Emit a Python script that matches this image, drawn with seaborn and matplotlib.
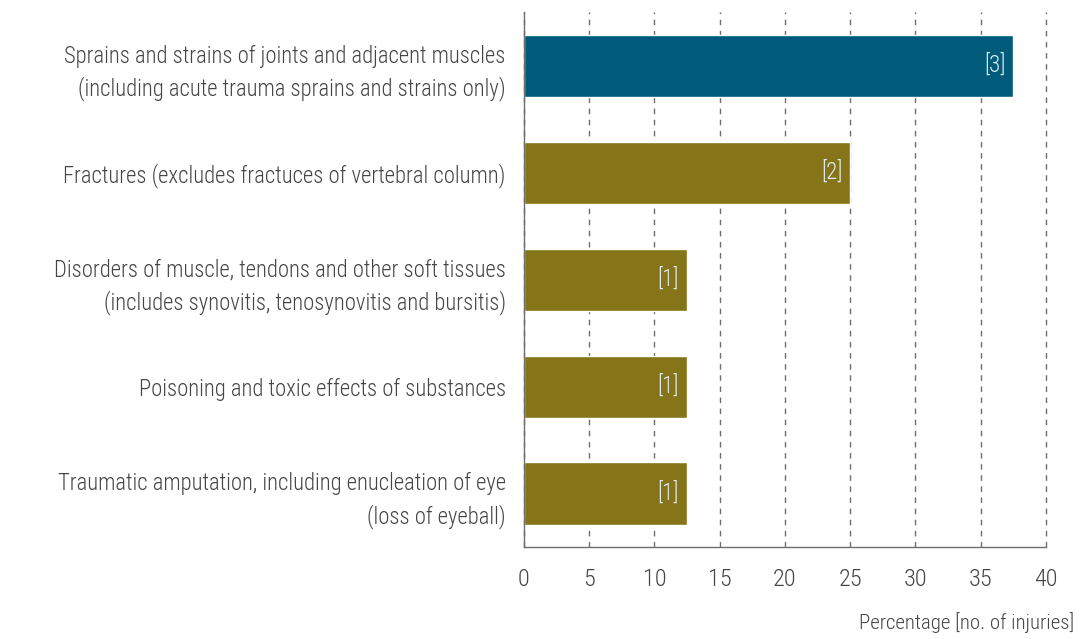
import matplotlib

matplotlib.use("Agg")
import matplotlib.pyplot as plt
import pandas as pd
import seaborn as sns

categories = [
    "Sprains and strains of joints and adjacent muscles\n(including acute trauma sprains and strains only)",
    "Fractures (excludes fractuces of vertebral column)",
    "Disorders of muscle, tendons and other soft tissues\n(includes synovitis, tenosynovitis and bursitis)",
    "Poisoning and toxic effects of substances",
    "Traumatic amputation, including enucleation of eye\n(loss of eyeball)",
]
percentages = [37.5, 25.0, 12.5, 12.5, 12.5]
injuries = [3, 2, 1, 1, 1]
x_ticks = [0, 5, 10, 15, 20, 25, 30, 35, 40]

sns.set_theme(style="white")
plt.rcParams["font.family"] = ["Roboto Condensed", "Roboto", "DejaVu Sans"]
plt.rcParams["font.weight"] = "light"

TEXT = "#454545"
GRID = "#6e6e6e"
palette = ["#005b7b"] + ["#857518"] * (len(categories) - 1)

df = pd.DataFrame({"category": categories, "pct": percentages, "n": injuries})

fig = plt.figure(figsize=(10.8, 6.39), dpi=100)
ax = fig.add_axes([0.485, 0.144, 0.4835, 0.837])

sns.barplot(data=df, x="pct", y="category", hue="category", palette=palette,
            legend=False, width=0.58, saturation=1, ax=ax)

for patch, n in zip(ax.patches, df["n"]):
    y = patch.get_y() + patch.get_height() / 2
    ax.text(patch.get_width() - 0.6, y, f"[{n}]", ha="right", va="center",
            color="#e3ecef", fontsize=16.5)

ax.set_xlim(0, 40)
ax.set_ylim(4.5, -0.5)
ax.set_xticks(x_ticks)
ax.xaxis.grid(True, linestyle=(0, (4, 4)), color=GRID, linewidth=1)
for line in ax.get_xgridlines():
    line.set_clip_on(False)
ax.set_axisbelow(True)
for side in ("top", "right"):
    ax.spines[side].set_visible(False)
for side in ("left", "bottom"):
    ax.spines[side].set_color(GRID)
    ax.spines[side].set_linewidth(1)
ax.tick_params(axis="x", length=0, pad=15, labelsize=17.5, labelcolor=TEXT)
ax.tick_params(axis="y", length=0, pad=13, labelsize=16.3, labelcolor=TEXT)
for lbl in ax.get_yticklabels():
    lbl.set_linespacing(1.45)
ax.set_ylabel("")
ax.set_xlabel("")
fig.text(0.995, 0.01, "Percentage [no. of injuries]", ha="right", va="bottom",
         fontsize=15, color=TEXT)

fig.savefig("out.png", dpi=100)
